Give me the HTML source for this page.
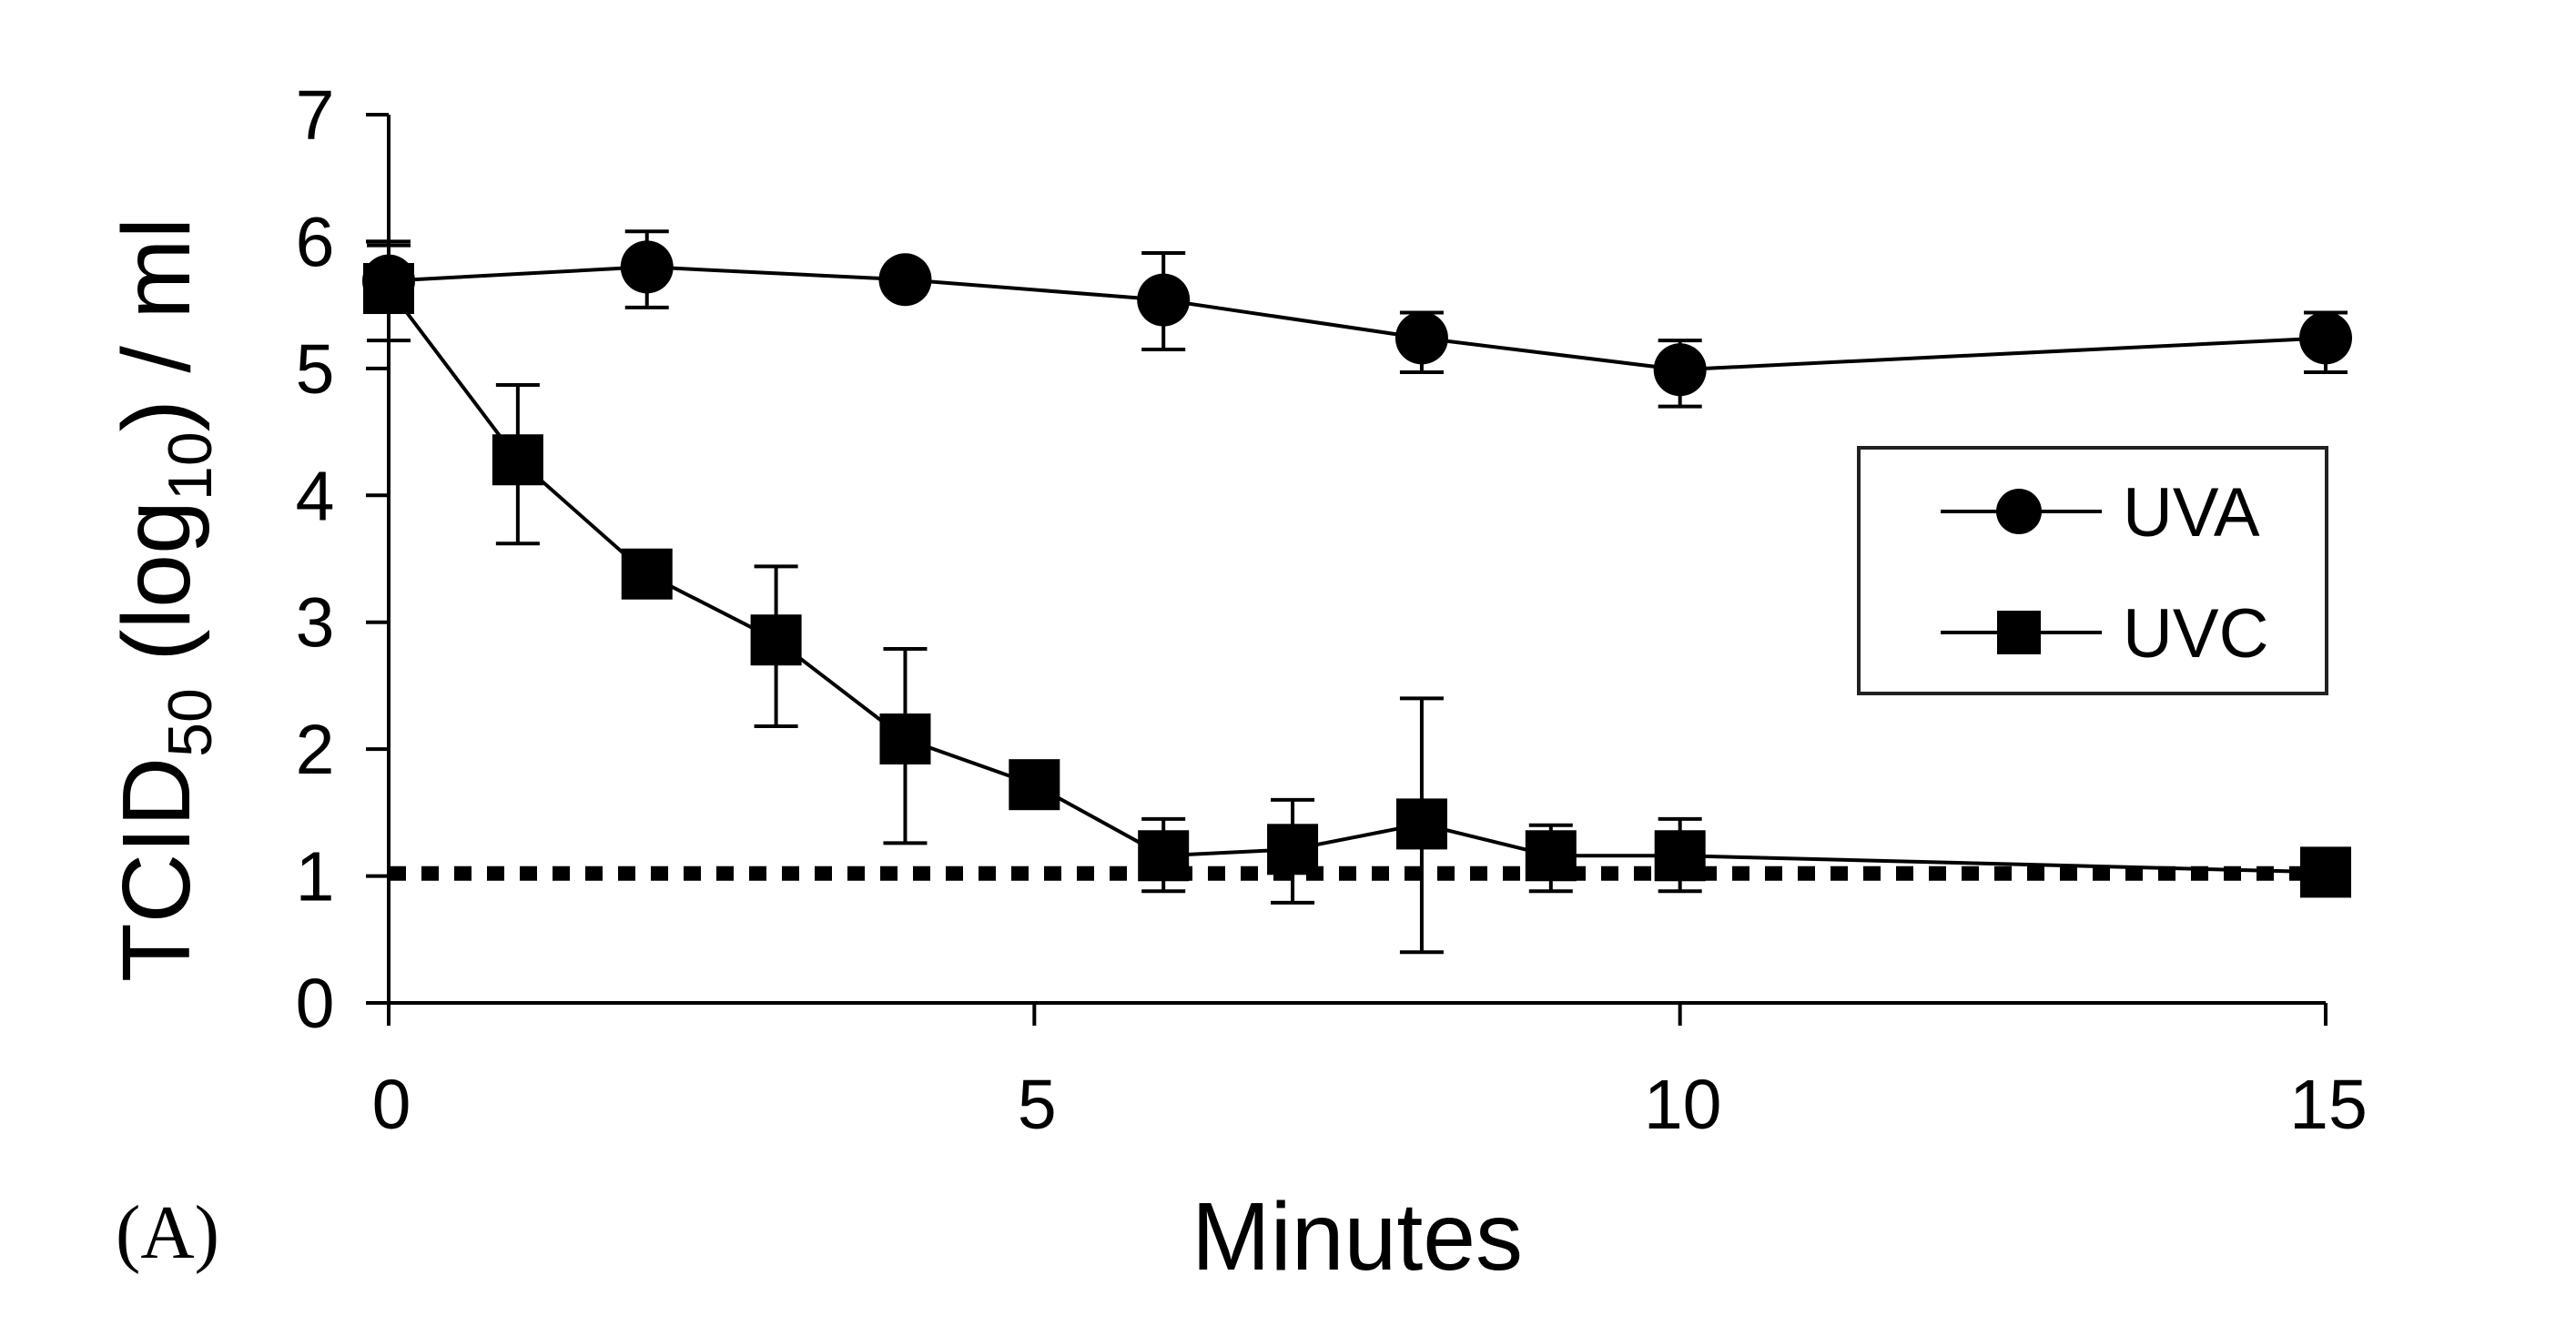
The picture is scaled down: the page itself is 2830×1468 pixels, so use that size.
<!DOCTYPE html>
<html><head><meta charset="utf-8"><style>html,body{margin:0;padding:0;background:#fff}svg{display:block}</style></head>
<body>
<svg id="chart" width="2830" height="1468" viewBox="0 0 2830 1468" xmlns="http://www.w3.org/2000/svg" font-family="'Liberation Sans', sans-serif">
<rect width="2830" height="1468" fill="#fff"/>
<g id="axes"></g>
<g id="marks"></g>
<text transform="translate(208,659) rotate(-90)" text-anchor="middle" font-size="106">TCID<tspan font-size="68" dy="24">50</tspan><tspan dy="-24"> (log</tspan><tspan font-size="68" dy="24">10</tspan><tspan dy="-24">) / ml</tspan></text>
<text x="1491" y="1395" text-anchor="middle" font-size="106" textLength="364" lengthAdjust="spacingAndGlyphs">Minutes</text>
<text x="127" y="1382" font-family="'Liberation Serif', serif" font-size="84" textLength="114" lengthAdjust="spacingAndGlyphs">(A)</text>
<g>
<rect x="2042" y="492" width="514" height="270" fill="none" stroke="#222" stroke-width="4"/>
<g>
<line x1="2132" y1="562" x2="2309" y2="562" stroke="#000" stroke-width="4"/>
<circle cx="2218" cy="562" r="25" fill="#000"/>
<text x="2332" y="589" font-size="76">UVA</text>
</g>
<g>
<line x1="2132" y1="695" x2="2309" y2="695" stroke="#000" stroke-width="4"/>
<rect x="2194" y="671" width="48" height="48" fill="#000"/>
<text x="2332" y="722" font-size="76">UVC</text>
</g>
</g>
</svg>
<script>
const xTicks = [0, 5, 10, 15];
const yTicks = [0, 1, 2, 3, 4, 5, 6, 7];
const uvaX = [0, 2, 4, 6, 8, 10, 15];
const uvaY = [5.69, 5.80, 5.70, 5.54, 5.24, 4.99, 5.24];
const uvaHi = [6.00, 6.08, 5.70, 5.91, 5.44, 5.22, 5.44];
const uvaLo = [5.69, 5.48, 5.70, 5.15, 4.97, 4.70, 4.97];
const uvcX = [0, 1, 2, 3, 4, 5, 6, 7, 8, 9, 10, 15];
const uvcY = [5.63, 4.28, 3.38, 2.86, 2.08, 1.72, 1.16, 1.21, 1.41, 1.16, 1.16, 1.03];
const uvcHi = [5.97, 4.87, 3.38, 3.44, 2.79, 1.72, 1.45, 1.60, 2.40, 1.40, 1.45, 1.03];
const uvcLo = [5.22, 3.62, 3.38, 2.18, 1.26, 1.72, 0.88, 0.79, 0.40, 0.88, 0.88, 1.03];
const detectionLimit = 1.02;

const NS = 'http://www.w3.org/2000/svg';
const X0 = 427, X1 = 2555, Y0 = 1102, Y1 = 126;
const sx = v => X0 + (v - 0) / 15 * (X1 - X0);
const sy = v => Y0 - (v - 0) / 7 * (Y0 - Y1);
function mk(tag, attrs, parent) {
  const e = document.createElementNS(NS, tag);
  for (const k in attrs) e.setAttribute(k, attrs[k]);
  parent.appendChild(e);
  return e;
}
const axes = document.getElementById('axes');
const marks = document.getElementById('marks');

let el = mk('line', {x1: X0, y1: Y1, x2: X0, y2: Y0, stroke: '#000', 'stroke-width': 4}, axes);


el = mk('line', {x1: X0, y1: Y0, x2: X1, y2: Y0, stroke: '#000', 'stroke-width': 4}, axes);



yTicks.forEach(t => {
  const y = sy(t);
  let l = mk('line', {x1: X0 - 25, y1: y, x2: X0, y2: y, stroke: '#000', 'stroke-width': 4}, axes);
  
  
  let tx = mk('text', {x: 346, y: y + 27, 'text-anchor': 'middle', 'font-size': 77}, axes);
  tx.textContent = t;
  
  
});
xTicks.forEach(t => {
  const x = sx(t);
  let l = mk('line', {x1: x, y1: Y0, x2: x, y2: Y0 + 25, stroke: '#000', 'stroke-width': 4}, axes);
  
  
  let tx = mk('text', {x: x + 3, y: 1240, 'text-anchor': 'middle', 'font-size': 77}, axes);
  tx.textContent = t;
  
  
});

el = mk('line', {x1: sx(0), y1: sy(detectionLimit), x2: sx(15), y2: sy(detectionLimit), stroke: '#000', 'stroke-width': 16, 'stroke-dasharray': '19 17'}, marks);



function series(xs, ys, hi, lo, kind, name) {
  const g = mk('g', {}, marks);
  
  
  const pts = xs.map((x, i) => sx(x) + ',' + sy(ys[i])).join(' ');
  let p = mk('polyline', {points: pts, fill: 'none', stroke: '#000', 'stroke-width': 4}, g);
  
  
  xs.forEach((x, i) => {
    const cx = sx(x);
    if (hi[i] - lo[i] > 0.02) {
      const eb = mk('path', {d: `M${cx},${sy(hi[i])}V${sy(lo[i])}M${cx-24},${sy(hi[i])}H${cx+24}M${cx-24},${sy(lo[i])}H${cx+24}`, stroke: '#000', 'stroke-width': 4, fill: 'none'}, g);
      
      
    }
    let m;
    if (kind === 'circle') m = mk('circle', {cx: cx, cy: sy(ys[i]), r: 29, fill: '#000'}, g);
    else m = mk('rect', {x: cx - 28, y: sy(ys[i]) - 28, width: 56, height: 56, fill: '#000'}, g);
    
    
  });
}
series(uvaX, uvaY, uvaHi, uvaLo, 'circle', 'uva');
series(uvcX, uvcY, uvcHi, uvcLo, 'square', 'uvc');
</script>
</body></html>
